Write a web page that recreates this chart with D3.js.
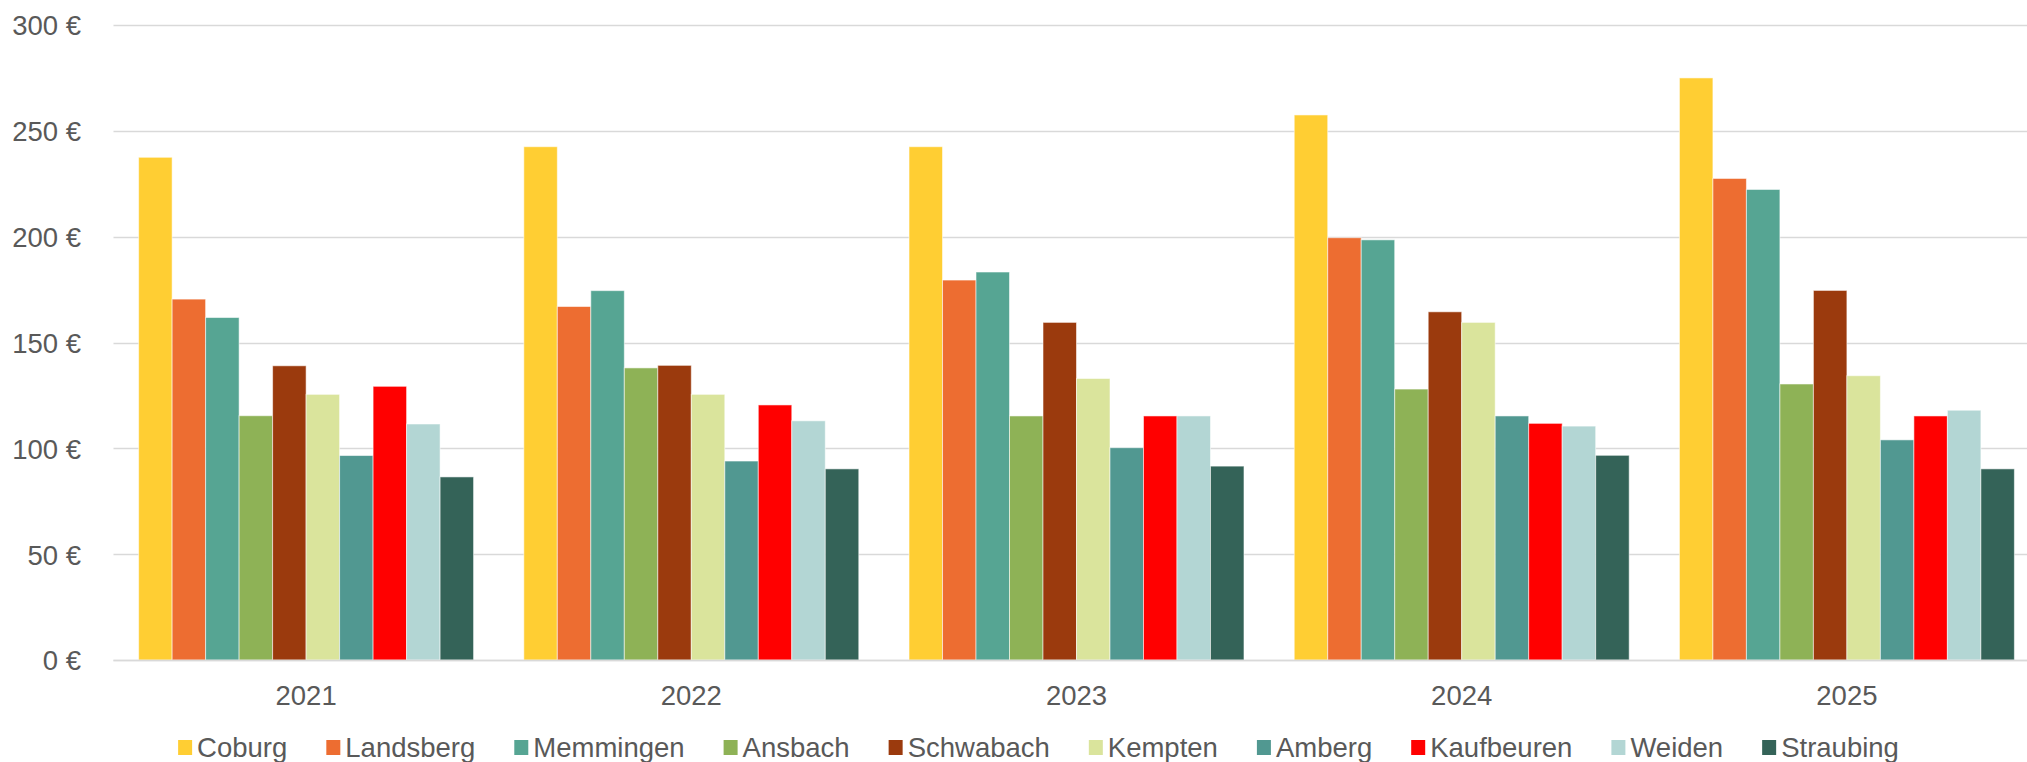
<!DOCTYPE html>
<html>
<head>
<meta charset="utf-8">
<script src="https://cdn.jsdelivr.net/npm/d3@7/dist/d3.min.js"></script>
<style>
  html, body { margin: 0; padding: 0; background: #fff; }
  svg { display: block; font-family: "Liberation Sans", Arial, sans-serif; }
</style>
</head>
<body>
<svg id="chart" width="2027" height="762"></svg>
<script>
const years = ["2021", "2022", "2023", "2024", "2025"];
const cities = ["Coburg", "Landsberg", "Memmingen", "Ansbach", "Schwabach", "Kempten", "Amberg", "Kaufbeuren", "Weiden", "Straubing"];
const colors = ["#FFCE33", "#ED6D31", "#56A593", "#8EB256", "#9B3A0D", "#DAE49C", "#519891", "#FF0000", "#B3D6D4", "#346358"];

const coburg     = [237.5, 242.5, 242.5, 257.5, 275];
const landsberg  = [170.5, 167, 179.5, 199.5, 227.5];
const memmingen  = [161.8, 174.5, 183.3, 198.5, 222.3];
const ansbach    = [115.4, 138, 115.3, 128, 130.4];
const schwabach  = [139, 139.2, 159.5, 164.5, 174.6];
const kempten    = [125.5, 125.5, 133, 159.5, 134.3];
const amberg     = [96.6, 94, 100.3, 115.3, 104];
const kaufbeuren = [129.3, 120.5, 115.3, 111.8, 115.3];
const weiden     = [111.5, 113, 115.3, 110.5, 118];
const straubing  = [86.5, 90.3, 91.6, 96.7, 90.3];

const seriesValues = [coburg, landsberg, memmingen, ansbach, schwabach, kempten, amberg, kaufbeuren, weiden, straubing];
const yTicks = [0, 50, 100, 150, 200, 250, 300];

const svg = d3.select("#chart");
const W = 2027;
const plotLeft = 113.5, plotRight = 2039.5, plotTop = 25, plotBottom = 660;
const textColor = "#595959";
const fontSize = 27.5;

const x0 = d3.scaleBand().domain(years).range([plotLeft, plotRight]).padding(0);
const x1 = d3.scaleBand().domain(cities).range([0, x0.bandwidth()]).paddingInner(0).paddingOuter(0.75);
const y = d3.scaleLinear().domain([0, 300]).range([plotBottom, plotTop]);
const color = d3.scaleOrdinal().domain(cities).range(colors);

// gridlines
svg.append("g")
  .selectAll("line")
  .data(yTicks)
  .join("line")
  .attr("x1", plotLeft).attr("x2", W)
  .attr("y1", d => Math.round(y(d)) + 0.5).attr("y2", d => Math.round(y(d)) + 0.5)
  .attr("stroke", "#D9D9D9").attr("stroke-width", 1.5);

// y axis labels
const yAxis = d3.axisLeft(y).tickValues(yTicks).tickSize(0).tickPadding(0)
  .tickFormat(d => d + " €");
const yg = svg.append("g").attr("transform", `translate(81,0)`).call(yAxis);
yg.select(".domain").remove();
yg.selectAll("text")
  .attr("fill", textColor)
  .style("font-size", fontSize + "px")
  .style("font-family", "'Liberation Sans', Arial, sans-serif")
  .attr("dy", "0.36em");

// bars
const rows = [];
years.forEach((yr, i) => {
  cities.forEach((c, j) => {
    rows.push({ year: yr, city: c, value: seriesValues[j][i] });
  });
});

svg.append("g")
  .selectAll("rect")
  .data(rows)
  .join("rect")
  .attr("x", d => x0(d.year) + x1(d.city))
  .attr("width", x1.bandwidth())
  .attr("y", d => y(d.value))
  .attr("height", d => y(0) - y(d.value))
  .attr("fill", d => color(d.city))
  .attr("stroke", "#ffffff")
  .attr("stroke-opacity", 0.55)
  .attr("stroke-width", 1);

// axis baseline
svg.append("line")
  .attr("x1", plotLeft).attr("x2", W)
  .attr("y1", plotBottom + 0.5).attr("y2", plotBottom + 0.5)
  .attr("stroke", "#D9D9D9").attr("stroke-width", 1.5);

// x axis labels
const xAxis = d3.axisBottom(x0).tickSize(0).tickPadding(0);
const xg = svg.append("g").attr("transform", `translate(0,${plotBottom})`).call(xAxis);
xg.select(".domain").remove();
xg.selectAll("text")
  .attr("fill", textColor)
  .attr("y", 45)
  .attr("dy", 0)
  .style("font-size", fontSize + "px")
  .style("font-family", "'Liberation Sans', Arial, sans-serif");

// legend
const legend = svg.append("g");
const sq = 15, textOffset = 19, itemGap = 39;
const items = legend.selectAll("g.item")
  .data(cities)
  .join("g").attr("class", "item");
items.append("rect")
  .attr("width", sq - 1).attr("height", sq)
  .attr("y", -sq)
  .attr("fill", d => color(d));
items.append("text")
  .attr("x", textOffset)
  .attr("y", 2)
  .attr("fill", textColor)
  .style("font-size", fontSize + "px")
  .text(d => d);
const widths = [];
items.each(function() {
  const tw = d3.select(this).select("text").node().getComputedTextLength();
  widths.push(textOffset + tw);
});
const total = d3.sum(widths) + itemGap * (widths.length - 1);
const legendCenter = 1038.5;
let start = legendCenter - total / 2;
items.attr("transform", (d, i) => {
  const tx = start;
  start += widths[i] + itemGap;
  return `translate(${tx},755)`;
});
</script>
</body>
</html>
